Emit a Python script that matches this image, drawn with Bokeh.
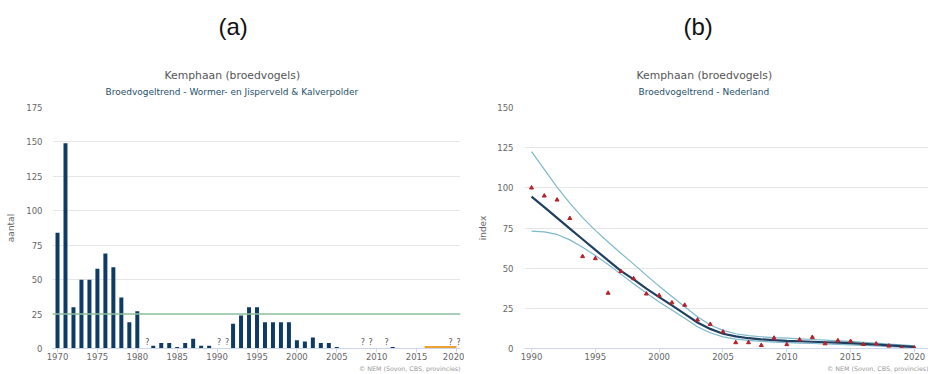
from bokeh.plotting import figure
from bokeh.models import Range1d, Span, Title, FixedTicker, ColumnDataSource
from bokeh.layouts import row
from bokeh.embed import file_html
from bokeh.resources import INLINE
from bokeh.core.properties import value

# ---------------- panel (a): counts Wormer- en Jisperveld & Kalverpolder
bar_years = [1970, 1971, 1972, 1973, 1974, 1975, 1976, 1977, 1978, 1979, 1980,
             1982, 1983, 1984, 1985, 1986, 1987, 1988, 1989,
             1992, 1993, 1994, 1995, 1996, 1997, 1998, 1999,
             2000, 2001, 2002, 2003, 2004, 2005, 2012]
bar_counts = [84, 149, 30, 50, 50, 58, 69, 59, 37, 19, 27,
              2, 4, 4, 1, 4, 7, 2, 2,
              18, 24, 30, 30, 19, 19, 19, 19,
              6, 5, 8, 4, 4, 1, 1]
unknown_years = [1981, 1990, 1991, 2008, 2009, 2011, 2019, 2020]
recent_years = [2016, 2020]
recent_counts = [1, 1]
reference_level = 25
ticks_a_x = [1970, 1975, 1980, 1985, 1990, 1995, 2000, 2005, 2010, 2015, 2020]
ticks_a_y = [0, 25, 50, 75, 100, 125, 150, 175]

# ---------------- panel (b): index Nederland
idx_years = list(range(1990, 2021))
idx_points = [100, 95, 92.5, 81, 57.3, 56, 34.5, 48, 43.5, 34, 33, 28.5, 27, 17.8, 15.1,
              10.4, 3.7, 3.7, 2, 6.5, 2.5, 5.5, 7, 3, 4.9, 4.5, 2.6, 2.9, 1.6, 0.6, 0.4]
idx_trend = [94.5, 88, 81.3, 74.6, 68, 61.4, 54.8, 48.3, 43, 37.3, 32, 26.8, 21.6, 16.2, 12.2,
             9.2, 7.5, 6.4, 5.7, 5.2, 4.8, 4.5, 4.2, 3.9, 3.6, 3.3, 2.9, 2.5, 2.0, 1.5, 1.0]
idx_upper = [122.5, 111.5, 100.5, 90.5, 81.5, 73.5, 66.3, 59.3, 52.5, 45.5, 38.8, 32.4, 26, 19.8,
             14.6, 11.3, 9.2, 8, 7.3, 6.8, 6.4, 6, 5.6, 5.2, 4.8, 4.4, 3.9, 3.4, 2.8, 2.2, 1.6]
idx_lower = [73, 72.6, 71, 67.6, 63, 57.9, 52.3, 46.3, 40.3, 34.6, 29, 24, 18.8, 13.5, 9.8,
             7.2, 5.8, 5, 4.4, 4, 3.7, 3.4, 3.1, 2.8, 2.5, 2.2, 1.9, 1.6, 1.2, 0.9, 0.5]
ticks_b_x = [1990, 1995, 2000, 2005, 2010, 2015, 2020]
ticks_b_y = [0, 25, 50, 75, 100, 125, 150]

FONT = "DejaVu Sans"
GRID = "#e6e6e6"
AXIS = "#ccd6eb"
LABEL = "#666666"


def base_figure(width, xr, yr, xt, yt, bl, br, ylabel, lab_standoff, title_standoff):
    p = figure(width=width, height=374, x_range=Range1d(*xr), y_range=Range1d(*yr),
               output_backend="svg", toolbar_location=None,
               min_border_left=bl, min_border_right=br,
               min_border_top=107, min_border_bottom=26)
    p.outline_line_color = None
    p.xgrid.grid_line_color = None
    p.ygrid.grid_line_color = GRID
    p.ygrid.grid_line_width = 1
    p.xaxis.ticker = FixedTicker(ticks=xt)
    p.yaxis.ticker = FixedTicker(ticks=yt)
    p.xaxis.axis_line_color = AXIS
    p.xaxis.major_tick_line_color = AXIS
    p.xaxis.major_tick_out = 4
    p.xaxis.major_tick_in = 0
    p.xaxis.minor_tick_line_color = None
    p.xaxis.minor_tick_out = 0
    p.xaxis.major_label_standoff = 0
    p.yaxis.axis_line_color = None
    p.yaxis.major_tick_line_color = None
    p.yaxis.minor_tick_line_color = None
    p.yaxis.major_tick_out = 0
    p.yaxis.major_tick_in = 0
    p.yaxis.minor_tick_out = 0
    p.yaxis.minor_tick_in = 0
    p.yaxis.major_label_standoff = lab_standoff
    for ax in (p.xaxis, p.yaxis):
        ax.major_label_text_font = FONT
        ax.major_label_text_font_size = "8.5px"
        ax.major_label_text_color = LABEL
    p.yaxis.axis_label = ylabel
    p.yaxis.axis_label_text_font = FONT
    p.yaxis.axis_label_text_font_size = "9px"
    p.yaxis.axis_label_text_font_style = "normal"
    p.yaxis.axis_label_text_color = LABEL
    p.yaxis.axis_label_standoff = title_standoff
    return p


def spacer(gap):
    return Title(text=" ", text_font_size="1px", standoff=gap, align="left", offset=0)


def headings(p, letter, letter_off, title_off, subtitle, sub_off):
    # stacked upward from the plot frame
    p.add_layout(spacer(8), "above")
    p.add_layout(Title(text=subtitle, align="left", offset=sub_off, standoff=0,
                       text_font=FONT, text_font_size="9px", text_font_style="normal",
                       text_color="#25506a"), "above")
    p.add_layout(Title(text="Kemphaan (broedvogels)", align="left", offset=title_off,
                       standoff=5, text_font=FONT, text_font_size="10.8px",
                       text_font_style="normal", text_color="#555555"), "above")
    p.add_layout(spacer(22), "above")
    p.add_layout(Title(text=letter, align="left", offset=letter_off, standoff=0,
                       text_font="Liberation Sans", text_font_size="24px",
                       text_font_style="normal", text_color="#111111"), "above")
    p.add_layout(Title(text="\u00a9 NEM (Sovon, CBS, provincies)", align="right", offset=0,
                       standoff=0, text_font=FONT, text_font_size="6.3px",
                       text_font_style="normal", text_color="#999999"), "below")


# ---- figure (a)
pa = base_figure(464, (1969.373, 2020.5), (0, 175), ticks_a_x, ticks_a_y, 52, 4,
                 "aantal", 10, 7)
pa.vbar(x=bar_years, top=bar_counts, width=0.5, bottom=0,
        fill_color="#0d3b66", line_color=None)
pa.add_layout(Span(location=reference_level, dimension="width",
                   line_color="#8fc1a3", line_width=1.6))
pa.line(x=recent_years, y=recent_counts, line_color="#f0a030", line_width=2)
pa.text(x=unknown_years, y=[0] * len(unknown_years), text=["?"] * len(unknown_years),
        text_align="center", text_baseline="bottom", x_offset=2, y_offset=-2,
        text_font=value(FONT), text_font_size="8px", text_color="#555555")
headings(pa, "(a)", 166, 112, "Broedvogeltrend - Wormer- en Jisperveld & Kalverpolder", 53)

# ---- figure (b)
pb = base_figure(464, (1989.45, 2021.1), (0, 150), ticks_b_x, ticks_b_y, 60, 0,
                 "index", 11, 6)
src = ColumnDataSource(dict(year=idx_years, pts=idx_points, trend=idx_trend,
                            upper=idx_upper, lower=idx_lower))
pb.line("year", "upper", source=src, line_color="#7db8cb", line_width=1.2)
pb.line("year", "lower", source=src, line_color="#7db8cb", line_width=1.2)
pb.line("year", "trend", source=src, line_color="#1f3f60", line_width=2.2)
pb.scatter("year", "pts", source=src, marker="triangle", size=4,
           fill_color="#b8202a", line_color="#b8202a")
headings(pb, "(b)", 159, 112, "Broedvogeltrend - Nederland", 114)

layout = row(pa, pb)
open("out.html", "w").write(file_html(layout, INLINE))
